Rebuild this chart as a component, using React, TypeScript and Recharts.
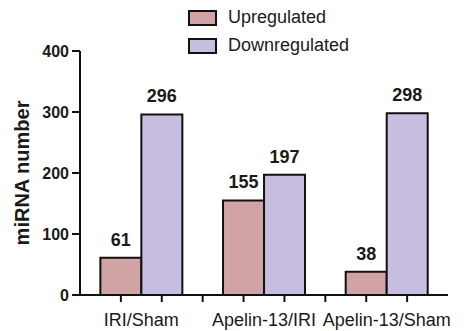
import { BarChart, Bar, XAxis, YAxis, Legend, LabelList } from 'recharts';

const categories = ['IRI/Sham', 'Apelin-13/IRI', 'Apelin-13/Sham'];
const upregulated = [61, 155, 38];
const downregulated = [296, 197, 298];
const yTicks = [0, 100, 200, 300, 400];

const UP_COLOR = '#d1a3a4';
const DOWN_COLOR = '#c8bedf';
const FONT = '"Liberation Sans", Arial, Helvetica, sans-serif';
const INK = '#1a1a1a';

const CHART_W = 474;
const CHART_H = 331;
const Y_AXIS_W = 80;
const MARGIN_RIGHT = 26;
// width of one category band on the x axis
const BAND = (CHART_W - Y_AXIS_W - MARGIN_RIGHT) / categories.length;

const data = categories.map((name, i) => ({
  name,
  Upregulated: upregulated[i],
  Downregulated: downregulated[i],
}));

// category label plus Prism-style tick marks under each bar and between groups
function CategoryTick(props: any) {
  const { x, y, payload, index } = props;
  const marks = [x - BAND / 6, x + BAND / 6];
  if (index < categories.length - 1) marks.push(x + BAND / 2);
  return (
    <g>
      {marks.map((mx, i) => (
        <line key={i} x1={mx} x2={mx} y1={y} y2={y + 7} stroke="#111" strokeWidth={2} />
      ))}
      <text x={x} y={y + 31} textAnchor="middle" fill={INK} fontSize={18} fontFamily={FONT}>
        {payload.value}
      </text>
    </g>
  );
}

function LegendBox() {
  const items = [
    { label: 'Upregulated', color: UP_COLOR },
    { label: 'Downregulated', color: DOWN_COLOR },
  ];
  return (
    <div style={{ height: 51, paddingLeft: 188, paddingTop: 9, boxSizing: 'border-box', fontFamily: FONT }}>
      {items.map((it) => (
        <div key={it.label} style={{ display: 'flex', alignItems: 'center', height: 17, marginBottom: 11 }}>
          <div
            style={{
              width: 29,
              height: 16,
              background: it.color,
              border: '2.5px solid #111',
              boxSizing: 'border-box',
            }}
          />
          <span style={{ marginLeft: 11, fontSize: 18, color: INK }}>{it.label}</span>
        </div>
      ))}
    </div>
  );
}

export default function App() {
  return (
    <div style={{ position: 'absolute', left: 0, top: 0, width: CHART_W, height: CHART_H, background: '#fff' }}>
      <BarChart
        width={CHART_W}
        height={CHART_H}
        data={data}
        margin={{ top: 0, right: MARGIN_RIGHT, left: 0, bottom: 0 }}
        barCategoryGap="16.6%"
        barGap={0}
      >
        <Legend
          verticalAlign="top"
          align="left"
          content={() => <LegendBox />}
          wrapperStyle={{ top: 0, left: 0 }}
        />
        <XAxis
          dataKey="name"
          axisLine={{ stroke: '#111', strokeWidth: 2 }}
          tickLine={false}
          tickSize={0}
          tickMargin={0}
          height={36}
          interval={0}
          tick={<CategoryTick />}
        />
        <YAxis
          domain={[0, 400]}
          ticks={yTicks}
          width={Y_AXIS_W}
          tickSize={8}
          tickMargin={3}
          axisLine={{ stroke: '#111', strokeWidth: 2 }}
          tickLine={{ stroke: '#111', strokeWidth: 2 }}
          tick={{ fill: INK, fontSize: 16, fontWeight: 'bold', fontFamily: FONT }}
          label={{
            value: 'miRNA number',
            angle: -90,
            position: 'center',
            dx: -18,
            style: { fill: INK, fontSize: 20, fontWeight: 'bold', fontFamily: FONT },
          }}
        />
        <Bar dataKey="Upregulated" fill={UP_COLOR} stroke="#111" strokeWidth={2} isAnimationActive={false}>
          <LabelList dataKey="Upregulated" position="top" offset={12} style={{ fill: INK, fontSize: 18, fontWeight: 'bold', fontFamily: FONT }} />
        </Bar>
        <Bar dataKey="Downregulated" fill={DOWN_COLOR} stroke="#111" strokeWidth={2} isAnimationActive={false}>
          <LabelList dataKey="Downregulated" position="top" offset={12} style={{ fill: INK, fontSize: 18, fontWeight: 'bold', fontFamily: FONT }} />
        </Bar>
      </BarChart>
    </div>
  );
}
